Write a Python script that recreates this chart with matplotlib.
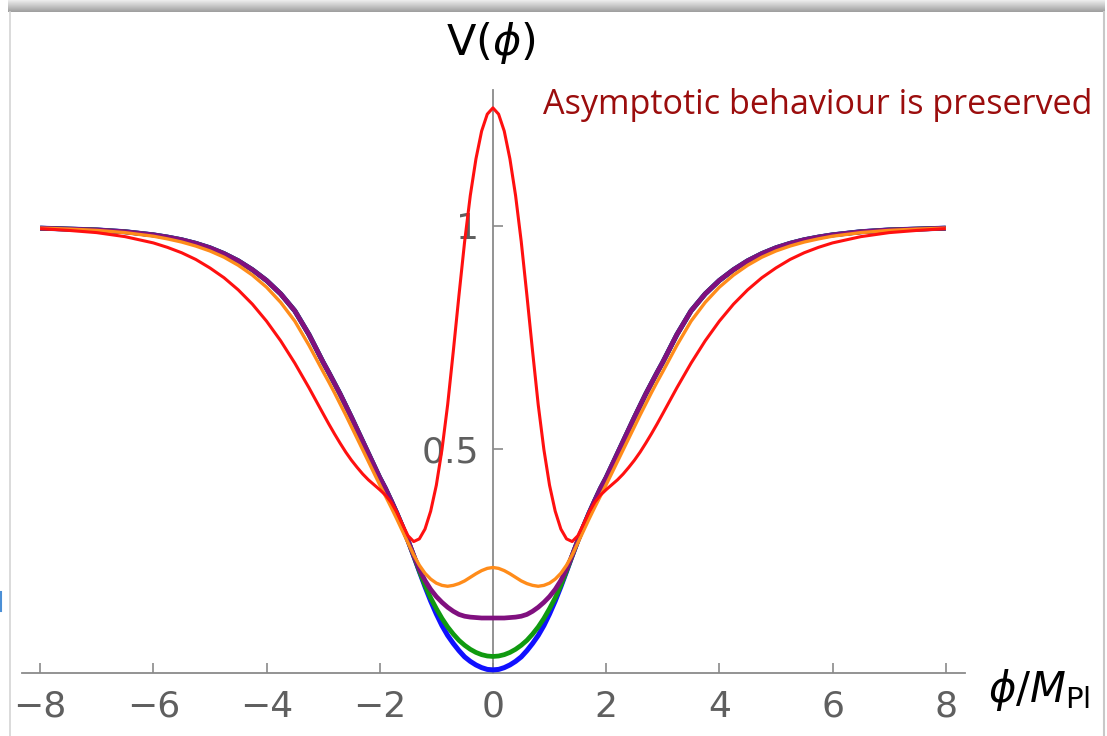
import numpy as np
import matplotlib.pyplot as plt
from matplotlib.lines import Line2D

# potential V(phi) for several parameter choices, sampled on phi >= 0
# (the curves are even in phi, the negative half is the mirror image)
phi_half = [0.0, 0.1, 0.2, 0.3, 0.4, 0.5, 0.6, 0.7, 0.8, 0.9,
            1.0, 1.1, 1.2, 1.3, 1.4, 1.5, 1.6, 1.7, 1.8, 1.9,
            2.0, 2.1, 2.2, 2.3, 2.4, 2.5, 2.6, 2.7, 2.8, 2.9,
            3.0, 3.25, 3.5, 3.75, 4.0, 4.25, 4.5, 4.75, 5.0, 5.25,
            5.5, 5.75, 6.0, 6.5, 7.0, 7.5, 8.0]

# shared large-field tail of the blue, green and purple curves (phi >= 1.6)
v_tail = [0.328, 0.358, 0.386, 0.413,
          0.437, 0.464, 0.491, 0.518, 0.545, 0.572, 0.598, 0.624, 0.648, 0.672,
          0.695, 0.757, 0.810, 0.848, 0.878, 0.902, 0.922, 0.938, 0.951, 0.961,
          0.969, 0.975, 0.980, 0.987, 0.991, 0.993, 0.995]

v_blue = [0.007, 0.008, 0.012, 0.018, 0.026, 0.036, 0.050, 0.066, 0.084, 0.106,
          0.132, 0.161, 0.193, 0.227, 0.262, 0.296] + v_tail

v_green = [0.037, 0.038, 0.041, 0.046, 0.053, 0.062, 0.073, 0.087, 0.103, 0.122,
           0.144, 0.168, 0.196, 0.228, 0.262, 0.296] + v_tail

v_purple = [0.123, 0.123, 0.123, 0.124, 0.125, 0.127, 0.131, 0.138, 0.147, 0.158,
            0.171, 0.187, 0.207, 0.232, 0.263, 0.296] + v_tail

v_orange = [0.236, 0.234, 0.229, 0.222, 0.214, 0.206, 0.200, 0.196, 0.194, 0.196,
            0.201, 0.210, 0.223, 0.241, 0.264, 0.291, 0.318, 0.345, 0.371, 0.396,
            0.421, 0.447, 0.473, 0.499, 0.525, 0.551, 0.577, 0.602, 0.627, 0.651,
            0.674, 0.733, 0.787, 0.829, 0.863, 0.890, 0.912, 0.930, 0.944, 0.955,
            0.964, 0.971, 0.977, 0.985, 0.990, 0.993, 0.995]

v_red = [1.264, 1.250, 1.212, 1.150, 1.068, 0.965, 0.845, 0.720, 0.600, 0.500,
         0.420, 0.362, 0.322, 0.300, 0.294, 0.307, 0.333, 0.360, 0.382, 0.398,
         0.410, 0.421, 0.432, 0.445, 0.460, 0.476, 0.494, 0.514, 0.535, 0.557,
         0.580, 0.638, 0.693, 0.743, 0.787, 0.825, 0.857, 0.884, 0.906, 0.925,
         0.940, 0.952, 0.962, 0.976, 0.985, 0.990, 0.994]

curve_colors = ['#1010ff', '#109a10', '#80107f', '#ff8c1a', '#ff1010']
curve_widths = [3.6, 3.4, 3.4, 2.4, 2.2]

x_ticks = [-8, -6, -4, -2, 0, 2, 4, 6, 8]
y_ticks = [0.5, 1.0]
y_tick_labels = ['0.5', '1']


def mirror(values):
    v = np.asarray(values, dtype=float)
    return np.concatenate([v[:0:-1], v])


phi = np.concatenate([-np.asarray(phi_half)[:0:-1], phi_half])

W, H = 1107, 736
fig = plt.figure(figsize=(W / 100, H / 100), dpi=100)
fig.patch.set_facecolor('white')

ax = fig.add_axes([22 / W, (H - 673) / H, (965 - 22) / W, (673 - 90) / H])
ax.set_xlim(-8.32, 8.34)
ax.set_ylim(0, 1.304)

for vals, c, lw in zip([v_blue, v_green, v_purple, v_orange, v_red],
                       curve_colors, curve_widths):
    ax.plot(phi, mirror(vals), color=c, lw=lw, clip_on=False,
            solid_capstyle='butt', solid_joinstyle='round')

axis_grey = '#8a8a8a'
for side in ['top', 'right']:
    ax.spines[side].set_visible(False)
ax.spines['left'].set_position(('data', 0))
ax.spines['bottom'].set_position(('data', 0))
for side in ['left', 'bottom']:
    ax.spines[side].set_color(axis_grey)
    ax.spines[side].set_linewidth(1.3)
    ax.spines[side].set_zorder(0)

ax.set_xticks(x_ticks)
ax.set_xticklabels([str(t).replace('-', '\u2212') for t in x_ticks])
ax.set_yticks(y_ticks)
ax.set_yticklabels(y_tick_labels)
ax.tick_params(axis='both', direction='in', length=7, width=1.2,
               color=axis_grey, labelcolor='#5f5f5f', labelsize=26)
ax.tick_params(axis='x', pad=12)
ax.tick_params(axis='y', pad=10)
ax.patch.set_visible(False)

fig.text(491 / W, 1 - 43 / H, r'V($\phi$)', fontsize=31, ha='center', va='center',
         color='black')
fig.text(988 / W, 1 - 690 / H, r'$\phi/M_{\rm Pl}$', fontsize=30, ha='left',
         va='center', color='black')
fig.text(543 / W, 1 - 105 / H, 'Asymptotic behaviour is preserved',
         fontsize=24.6, family='Open Sans', ha='left', va='center', color='#9b0d0d')

# picture frame: shaded top edge and thin side borders
band = fig.add_axes([8 / W, 1 - 12 / H, (1105 - 8) / W, 12 / H])
band.imshow(np.linspace(0.93, 0.62, 24).reshape(-1, 1), aspect='auto',
            cmap='gray', vmin=0, vmax=1, interpolation='bilinear')
band.axis('off')
fig.add_artist(Line2D([10 / W, 10 / W], [0, 1 - 12 / H], color='#d4d4d4', lw=1.2))
fig.add_artist(Line2D([1104 / W, 1104 / W], [0, 1 - 12 / H], color='#c8c8c8', lw=1.5))
fig.add_artist(Line2D([1 / W, 1 / W], [1 - 611 / H, 1 - 592 / H], color='#4b8fd6', lw=1.5))

fig.savefig('out.png', dpi=100)
